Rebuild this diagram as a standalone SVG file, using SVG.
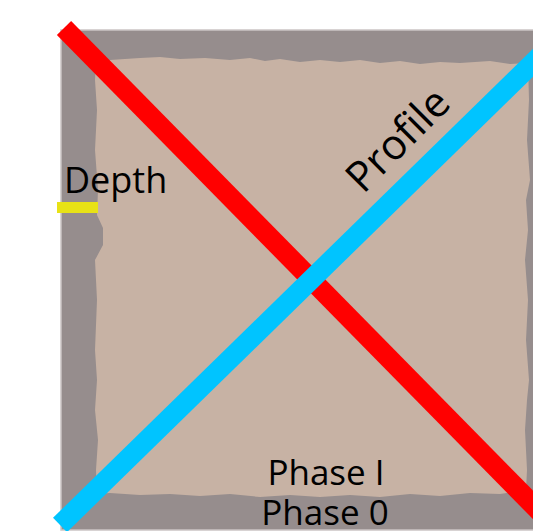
<svg xmlns="http://www.w3.org/2000/svg" width="533" height="531" viewBox="0 0 533 531">
<style>
.lbl{font-family:"Open Sans","Liberation Sans",sans-serif;fill:#000}
.ln{fill:none;stroke-linecap:butt;stroke-width:20}
</style>
<rect width="533" height="531" fill="#fff"/>
<g id="frame">
<rect x="61" y="30" width="480" height="500" fill="#968d8d" stroke="#cbc5c5" stroke-width="1.5"/>
<path d="M96,62 L110,60 L140,58 L160,57 L180,59 L205,58 L230,60 L250,58 L265,61 L280,59 L300,62 L320,60 L340,62 L360,60 L380,63 L400,61 L420,64 L440,62 L460,63 L490,61 L510,64 L528,63 L529,100 L527,140 L530,180 L526,200 L528,230 L525,260 L528,300 L526,340 L529,380 L527,400 L525,430 L527,470 L526,490 L500,494 L470,493 L440,496 L410,494 L380,497 L350,495 L320,497 L290,495 L260,497 L230,494 L200,496 L170,494 L140,495 L110,493 L97,494 L96,470 L98,440 L95,410 L97,380 L95,350 L97,300 L95,260 L103,245 L103,228 L97,215 L98,190 L95,150 L97,110 L95,80 Z" fill="#c7b2a4"/>
</g>
<g id="depth">
<rect x="57" y="202" width="41" height="11" fill="#e8e216"/>
<text class="lbl" x="64" y="193" font-size="36">Depth</text>
</g>
<g id="connectors">
<line class="ln" x1="64" y1="28" x2="540" y2="512" stroke="#ff0000"/>
<line class="ln" x1="60" y1="525" x2="540" y2="56" stroke="#00c4ff"/>
</g>
<g id="profile">
<text class="lbl" x="0" y="0" font-size="42" text-anchor="middle" transform="translate(408,150) rotate(-45)">Profile</text>
</g>
<g id="phases">
<text class="lbl" x="326" y="485" font-size="35" text-anchor="middle">Phase I</text>
<text class="lbl" x="325" y="525" font-size="35" text-anchor="middle">Phase 0</text>
</g>
</svg>
